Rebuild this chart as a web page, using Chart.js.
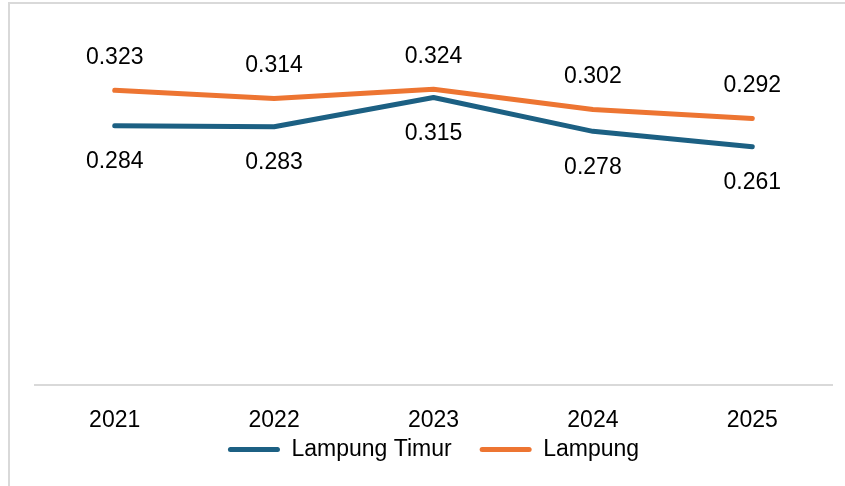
<!DOCTYPE html>
<html>
<head>
<meta charset="utf-8">
<script src="https://cdn.jsdelivr.net/npm/chart.js@4"></script>
<style>
    html, body { margin: 0; padding: 0; background: #ffffff; }
    .frame {
        position: absolute; left: 8px; top: 2px;
        width: 900px; height: 600px;
        border: 2px solid #d9d9d9;
    }
    .wrap { position: absolute; left: 0; top: 0; width: 845px; height: 486px; }
</style>
</head>
<body>
<div class="frame"></div>
<div class="wrap"><canvas id="chart" width="845" height="486"></canvas></div>
<script>
// Données
const years = ['2021', '2022', '2023', '2024', '2025'];
const lampungTimur = [0.284, 0.283, 0.315, 0.278, 0.261];
const lampung = [0.323, 0.314, 0.324, 0.302, 0.292];

const BLUE = '#1c6083';
const ORANGE = '#ed7532';
const FONT = "'Liberation Sans', Arial, sans-serif";

// Étiquettes de valeurs (au-dessus pour Lampung, en dessous pour Lampung Timur)
const valueLabels = {
    id: 'valueLabels',
    afterDatasetsDraw(chart) {
        const ctx = chart.ctx;
        ctx.save();
        ctx.font = '23px ' + FONT;
        ctx.fillStyle = '#000000';
        ctx.textAlign = 'center';
        ctx.textBaseline = 'middle';
        chart.data.datasets.forEach((ds, i) => {
            const meta = chart.getDatasetMeta(i);
            meta.data.forEach((pt, j) => {
                const dy = ds.labelPos === 'above' ? -33 : 36;
                ctx.fillText(ds.data[j].toFixed(3), pt.x, pt.y + dy);
            });
        });
        ctx.restore();
    }
};

function lineDataset(label, data, color, labelPos) {
    return {
        label: label,
        data: data,
        borderColor: color,
        backgroundColor: color,
        borderWidth: 5,
        borderCapStyle: 'round',
        borderJoinStyle: 'round',
        pointRadius: 0,
        tension: 0,
        labelPos: labelPos
    };
}

new Chart(document.getElementById('chart').getContext('2d'), {
    type: 'line',
    data: {
        labels: years,
        datasets: [
            lineDataset('Lampung Timur', lampungTimur, BLUE, 'below'),
            lineDataset('Lampung', lampung, ORANGE, 'above')
        ]
    },
    options: {
        responsive: false,
        animation: false,
        layout: { padding: { left: 35, right: 13, top: 20, bottom: 15 } },
        scales: {
            x: {
                offset: true,
                // grille masquée ; tickLength ne sert qu'à régler la hauteur de l'axe
                grid: { display: false, drawTicks: true, tickLength: 99 },
                border: { display: true, color: '#d9d9d9', width: 2 },
                ticks: {
                    color: '#000000',
                    font: { family: FONT, size: 23, lineHeight: 0.1 },
                    mirror: true,
                    padding: -37,
                    maxRotation: 0,
                    autoSkip: false
                }
            },
            y: {
                display: false,
                min: 0,
                max: 0.4
            }
        },
        plugins: {
            legend: {
                position: 'bottom',
                labels: {
                    color: '#000000',
                    font: { family: FONT, size: 23 },
                    boxWidth: 52,
                    boxHeight: 5,
                    padding: 28,
                    useBorderRadius: true,
                    borderRadius: 2.5,
                    generateLabels(chart) {
                        return chart.data.datasets.map((ds, i) => ({
                            text: ds.label,
                            fillStyle: ds.borderColor,
                            strokeStyle: ds.borderColor,
                            lineWidth: 0,
                            fontColor: '#000000',
                            hidden: !chart.isDatasetVisible(i),
                            datasetIndex: i,
                            borderRadius: 2.5
                        }));
                    }
                }
            },
            tooltip: { enabled: false }
        }
    },
    plugins: [valueLabels]
});
</script>
</body>
</html>
